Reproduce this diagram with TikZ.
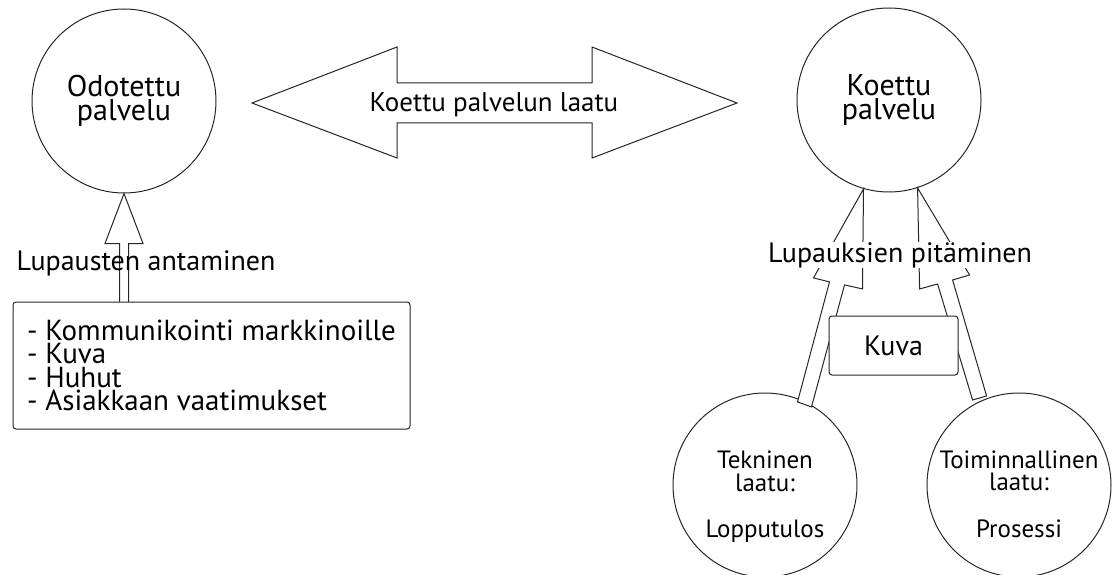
\documentclass[tikz,border=0pt]{standalone}
\usepackage{fontspec}
\setmainfont{PT Sans}
\newcommand{\lblsize}{\fontsize{28}{30}\selectfont}
\newcommand{\topsize}{\fontsize{30}{24}\selectfont}
\newcommand{\cirsize}{\fontsize{25}{22.5}\selectfont}
\newcommand{\lstsize}{\fontsize{29}{23.3}\selectfont}
\begin{document}
\begin{tikzpicture}[
x=1pt, y=-1pt,
circ/.style={circle, draw=black!85, line width=1pt, minimum size=184pt, inner sep=0pt, align=center, font=\topsize},
box/.style={draw=black!85, line width=1pt, rounded corners=3pt, fill=white},
lbl/.style={font=\lblsize, inner sep=0pt, anchor=base},
hollow/.style={draw=black!85, line width=1pt, fill=white}
]
\useasboundingbox (0,0) rectangle (1112,575);

\node[circ] (1) at (124,101) {Odotettu\\palvelu};
\node[circ] (2) at (889,100) {Koettu\\palvelu};
\node[circ] (3) at (765,485) {};
\node[circ] (4) at (1019,485) {};
\node[font=\cirsize, align=center] (3t) at ([yshift=-12pt]3.center) {Tekninen\\laatu:\\[24pt]Lopputulos};
\node[font=\cirsize, align=center] (4t) at ([yshift=-9pt]4.center) {Toiminnallinen\\laatu:\\[24pt]Prosessi};

\draw[hollow] (397,47) -- (252,103) -- (397,158) -- (397,123) -- (592,123) -- (592,158)
  -- (737,103) -- (592,47) -- (592,83) -- (397,83) -- cycle;
\node[lbl, font=\fontsize{27}{30}\selectfont] (7) at (494,112) {Koettu palvelun laatu};

\draw[hollow] (1.south) -- ++(-19,50) -- ++(14.5,0) -- ++(0,59) -- ++(9,0) -- ++(0,-59) -- ++(14.5,0) -- cycle;
\node[lbl] (8) at (146,270) {Lupausten antaminen};
\node[box, minimum width=397pt, minimum height=127pt, align=left, font=\lstsize] (5) at (211.5,365.5)
  {- Kommunikointi markkinoille\\- Kuva\\- Huhut\\- Asiakkaan vaatimukset};

\draw[hollow] (2.254) -- ++(-50,89) -- ++(16,4) -- ++(-32,120) -- ++(14,5) -- ++(33,-122) -- ++(18,4) -- cycle;
\draw[hollow] (2.288) -- ++(52,87) -- ++(-17,5) -- ++(34,116) -- ++(-14,4) -- ++(-35,-116) -- ++(-18,5) -- cycle;
\node[box, minimum width=129pt, minimum height=59pt, font=\lblsize] (6) at (893.5,345.5) {Kuva};
\node[lbl, fill=white] (9) at (900,262) {Lupauksien pitäminen};
\end{tikzpicture}
\end{document}
